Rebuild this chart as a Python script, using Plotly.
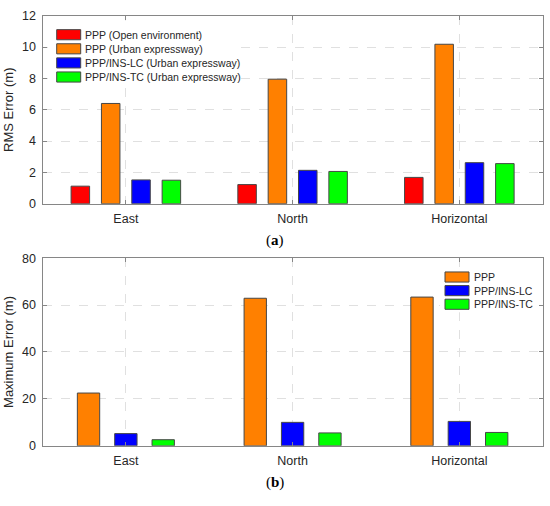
import plotly.graph_objects as go
from plotly.subplots import make_subplots

categories = ['East', 'North', 'Horizontal']

# (a) RMS error (m)
rms_names = ['PPP (Open environment)', 'PPP (Urban expressway)',
             'PPP/INS-LC (Urban expressway)', 'PPP/INS-TC (Urban expressway)']
rms_open = [1.12, 1.22, 1.68]
rms_ppp = [6.40, 7.95, 10.18]
rms_lc = [1.52, 2.13, 2.62]
rms_tc = [1.50, 2.06, 2.56]

# (b) Maximum error (m)
max_names = ['PPP', 'PPP/INS-LC', 'PPP/INS-TC']
max_ppp = [22.5, 62.9, 63.4]
max_lc = [5.2, 10.0, 10.4]
max_tc = [2.6, 5.5, 5.7]

red = '#ff0000'
orange = '#ff8000'
blue = '#0000ff'
green = '#00ff00'

W, H = 550, 506
font = 'Liberation Sans, Arial, sans-serif'
axis_col = '#868686'
text_col = '#262626'
grid_col = '#e0e0e0'
edge_col = '#474747'

fig = make_subplots(rows=2, cols=1)


def add_group(series, names, colours, row, slot, width):
  # matlab style grouped bars: fixed slot per series, bar narrower than slot
  start = -slot * len(series) / 2
  for i, (vals, name, col) in enumerate(zip(series, names, colours)):
    fig.add_trace(go.Bar(
      x=categories, y=vals, name=name, showlegend=False,
      marker=dict(color=col, line=dict(color=edge_col, width=1)),
      width=width, offset=start + i * slot + (slot - width) / 2,
    ), row=row, col=1)


add_group([rms_open, rms_ppp, rms_lc, rms_tc], rms_names,
          [red, orange, blue, green], 1, 0.182, 0.111)
add_group([max_ppp, max_lc, max_tc], max_names,
          [orange, blue, green], 2, 0.224, 0.134)

axis_style = dict(
  showline=True, mirror='ticks', linecolor=axis_col, linewidth=1,
  ticks='inside', ticklen=4, tickcolor=axis_col,
  showgrid=True, gridcolor=grid_col, griddash='dash', gridwidth=1,
  tickfont=dict(family=font, size=12.5, color=text_col),
  ticklabelstandoff=3, zeroline=False,
)

fig.update_xaxes(**axis_style, range=[-0.5, 2.5], domain=[42.5 / W, 542.7 / W])
fig.update_yaxes(**axis_style)

fig.update_yaxes(row=1, col=1, range=[0, 12], dtick=2,
                 domain=[1 - 202.3 / H, 1 - 9 / H],
                 title=dict(text='RMS Error (m)', standoff=5,
                            font=dict(family=font, size=13, color=text_col)))
fig.update_yaxes(row=2, col=1, range=[0, 80], dtick=20,
                 domain=[1 - 451.3 / H, 1 - 258.3 / H],
                 title=dict(text='Maximum Error (m)', standoff=5,
                            font=dict(family=font, size=13, color=text_col)))

# legends drawn matlab-like: wide swatches, tight rows, white box over grid
shapes = []
annotations = []


def add_legend(names, colours, box, x0, y0, step):
  shapes.append(dict(type='rect', xref='paper', yref='paper', layer='above',
                     x0=box[0] / W, x1=box[1] / W, y0=1 - box[3] / H, y1=1 - box[2] / H,
                     fillcolor='white', line=dict(width=0)))
  for i, (name, col) in enumerate(zip(names, colours)):
    yc = y0 + i * step
    shapes.append(dict(type='rect', xref='paper', yref='paper', layer='above',
                       x0=x0 / W, x1=(x0 + 24) / W,
                       y0=1 - (yc + 5.2) / H, y1=1 - (yc - 5.2) / H,
                       fillcolor=col, line=dict(color=edge_col, width=1)))
    annotations.append(dict(text=name, xref='paper', yref='paper',
                            x=(x0 + 26.5) / W, y=1 - yc / H,
                            xanchor='left', yanchor='middle', showarrow=False,
                            font=dict(family=font, size=10.5, color=text_col)))


add_legend(rms_names, [red, orange, blue, green], (48, 240, 14, 82), 56.7, 28.5, 14.5)
add_legend(max_names, [orange, blue, green], (440, 538, 269, 314), 445, 277.7, 14)

for label, yc in (('a', 240), ('b', 489)):
  annotations.append(dict(text='(<b>%s</b>)' % label, xref='paper', yref='paper',
                          x=275 / W, y=1 - yc / H, xanchor='center', yanchor='middle',
                          showarrow=False,
                          font=dict(family='Liberation Serif, Times New Roman, serif',
                                    size=15, color='black')))

fig.update_layout(
  width=W, height=H,
  margin=dict(l=0, r=0, t=0, b=0),
  plot_bgcolor='white', paper_bgcolor='white',
  barmode='overlay',
  shapes=shapes,
  annotations=annotations,
)

fig.write_html("out.html", config={'displayModeBar': False},
               post_script="document.body.style.margin = '0';")
